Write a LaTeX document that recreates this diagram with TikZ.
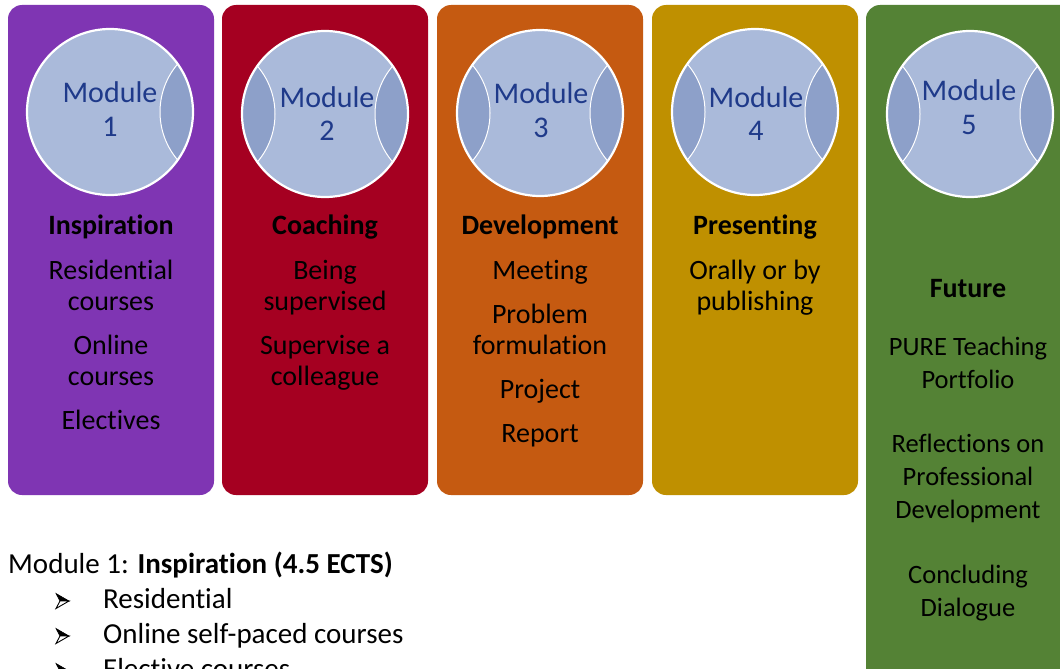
\documentclass[tikz,border=0pt]{standalone}
\usepackage{fontspec}
\setmainfont{Carlito}[Ligatures=NoCommon]
\definecolor{cpurple}{RGB}{127,53,179}
\definecolor{cred}{RGB}{165,0,33}
\definecolor{corange}{RGB}{197,90,17}
\definecolor{cgold}{RGB}{191,144,0}
\definecolor{cgreen}{RGB}{84,130,53}
\definecolor{circfill}{RGB}{170,186,218}
\definecolor{crescfill}{RGB}{141,160,201}
\definecolor{modblue}{RGB}{31,58,138}
\begin{document}
\begin{tikzpicture}[x=1pt,y=-1pt,
  modbox/.style={rounded corners=14pt},
  circtext/.style={font=\fontsize{30}{34}\selectfont, text=modblue, anchor=base, inner sep=0pt},
  colhead/.style={font=\fontsize{28}{31}\selectfont\bfseries, anchor=base, inner sep=0pt},
  coltext/.style={font=\fontsize{28}{31}\selectfont, anchor=base, inner sep=0pt},
  greentext/.style={font=\fontsize{26.5}{33}\selectfont, anchor=base, inner sep=0pt},
  listtext/.style={font=\fontsize{29}{35}\selectfont, anchor=base west, inner sep=0pt},
  arrowdark/.style={fill=black, draw=black, line width=0.6pt, line join=miter},
  arrowlight/.style={fill=white, draw=black, line width=0.9pt, line join=miter}]
\useasboundingbox (0,0) rectangle (1060,669);
\clip (0,0) rectangle (1060,669);
\fill[white] (0,0) rectangle (1060,669);

% column boxes
\fill[modbox, cpurple] (8,5) rectangle (214,495);
\fill[modbox, cred] (222,5) rectangle (428,495);
\fill[modbox, corange] (437,5) rectangle (643,495);
\fill[modbox, cgold] (652,5) rectangle (858,495);
\fill[modbox, cgreen] (866,5) rectangle (1085,700);

% module circles
\foreach \cx/\cy/\lc in {110/112/0, 325/114/1, 540/113/1, 755/112/1, 970/114/1}{
  \begin{scope}
    \clip (\cx,\cy) circle[radius=83];
    \fill[circfill] (\cx,\cy) circle[radius=83];
    \filldraw[fill=crescfill, draw=white, line width=1pt] (\cx+124,\cy) circle[radius=74];
    \ifnum\lc=1
      \filldraw[fill=crescfill, draw=white, line width=1pt] (\cx-124,\cy) circle[radius=74];
    \fi
  \end{scope}
  \draw[white, line width=2.2pt] (\cx,\cy) circle[radius=83];
}

% circle labels
\node[circtext] (m1a) at (110,102) {Module};
\node[circtext] (m1b) at (110,136) {1};
\node[circtext] (m2a) at (327,107) {Module};
\node[circtext] (m2b) at (327,140) {2};
\node[circtext] (m3a) at (541,103) {Module};
\node[circtext] (m3b) at (541,137) {3};
\node[circtext] (m4a) at (756,107) {Module};
\node[circtext] (m4b) at (756,140) {4};
\node[circtext] (m5a) at (969,100) {Module};
\node[circtext] (m5b) at (969,134) {5};

% column 1
\node[colhead] (h1) at (111,234) {Inspiration};
\node[coltext] (c1a) at (111,279) {Residential};
\node[coltext] (c1b) at (111,310) {courses};
\node[coltext] (c1c) at (111,354) {Online};
\node[coltext] (c1d) at (111,385) {courses};
\node[coltext] (c1e) at (111,429) {Electives};

% column 2
\node[colhead] (h2) at (325,234) {Coaching};
\node[coltext] (c2a) at (325,279) {Being};
\node[coltext] (c2b) at (325,310) {supervised};
\node[coltext] (c2c) at (325,354) {Supervise a};
\node[coltext] (c2d) at (325,385) {colleague};

% column 3
\node[colhead] (h3) at (540,234) {Development};
\node[coltext] (c3a) at (540,279) {Meeting};
\node[coltext] (c3b) at (540,323) {Problem};
\node[coltext] (c3c) at (540,354) {formulation};
\node[coltext] (c3d) at (540,398) {Project};
\node[coltext] (c3e) at (540,442) {Report};

% column 4
\node[colhead] (h4) at (755,234) {Presenting};
\node[coltext] (c4a) at (755,279) {Orally or by};
\node[coltext] (c4b) at (755,310) {publishing};

% column 5
\node[colhead] (h5) at (968,297) {Future};
\node[greentext] (c5a) at (968,355) {PURE Teaching};
\node[greentext] (c5b) at (968,388) {Portfolio};
\node[greentext] (c5c) at (968,452) {Reflections on};
\node[greentext] (c5d) at (968,485) {Professional};
\node[greentext] (c5e) at (968,518) {Development};
\node[greentext] (c5f) at (968,583) {Concluding};
\node[greentext] (c5g) at (968,616) {Dialogue};

% bottom list
\node[listtext] (lt) at (8,573) {Module 1: \textbf{Inspiration (4.5 ECTS)}};
\foreach \by in {601,636,671}{
  \fill[arrowdark] (56,\by-7.5) -- (69,\by) -- (60,\by) -- cycle;
  \filldraw[arrowlight] (60,\by) -- (69,\by) -- (56,\by+7.5) -- cycle;
}
\node[listtext] (l1) at (103,608) {Residential};
\node[listtext] (l2) at (103,643) {Online self-paced courses};
\node[listtext] (l3) at (103,678) {Elective courses};
\end{tikzpicture}
\end{document}
